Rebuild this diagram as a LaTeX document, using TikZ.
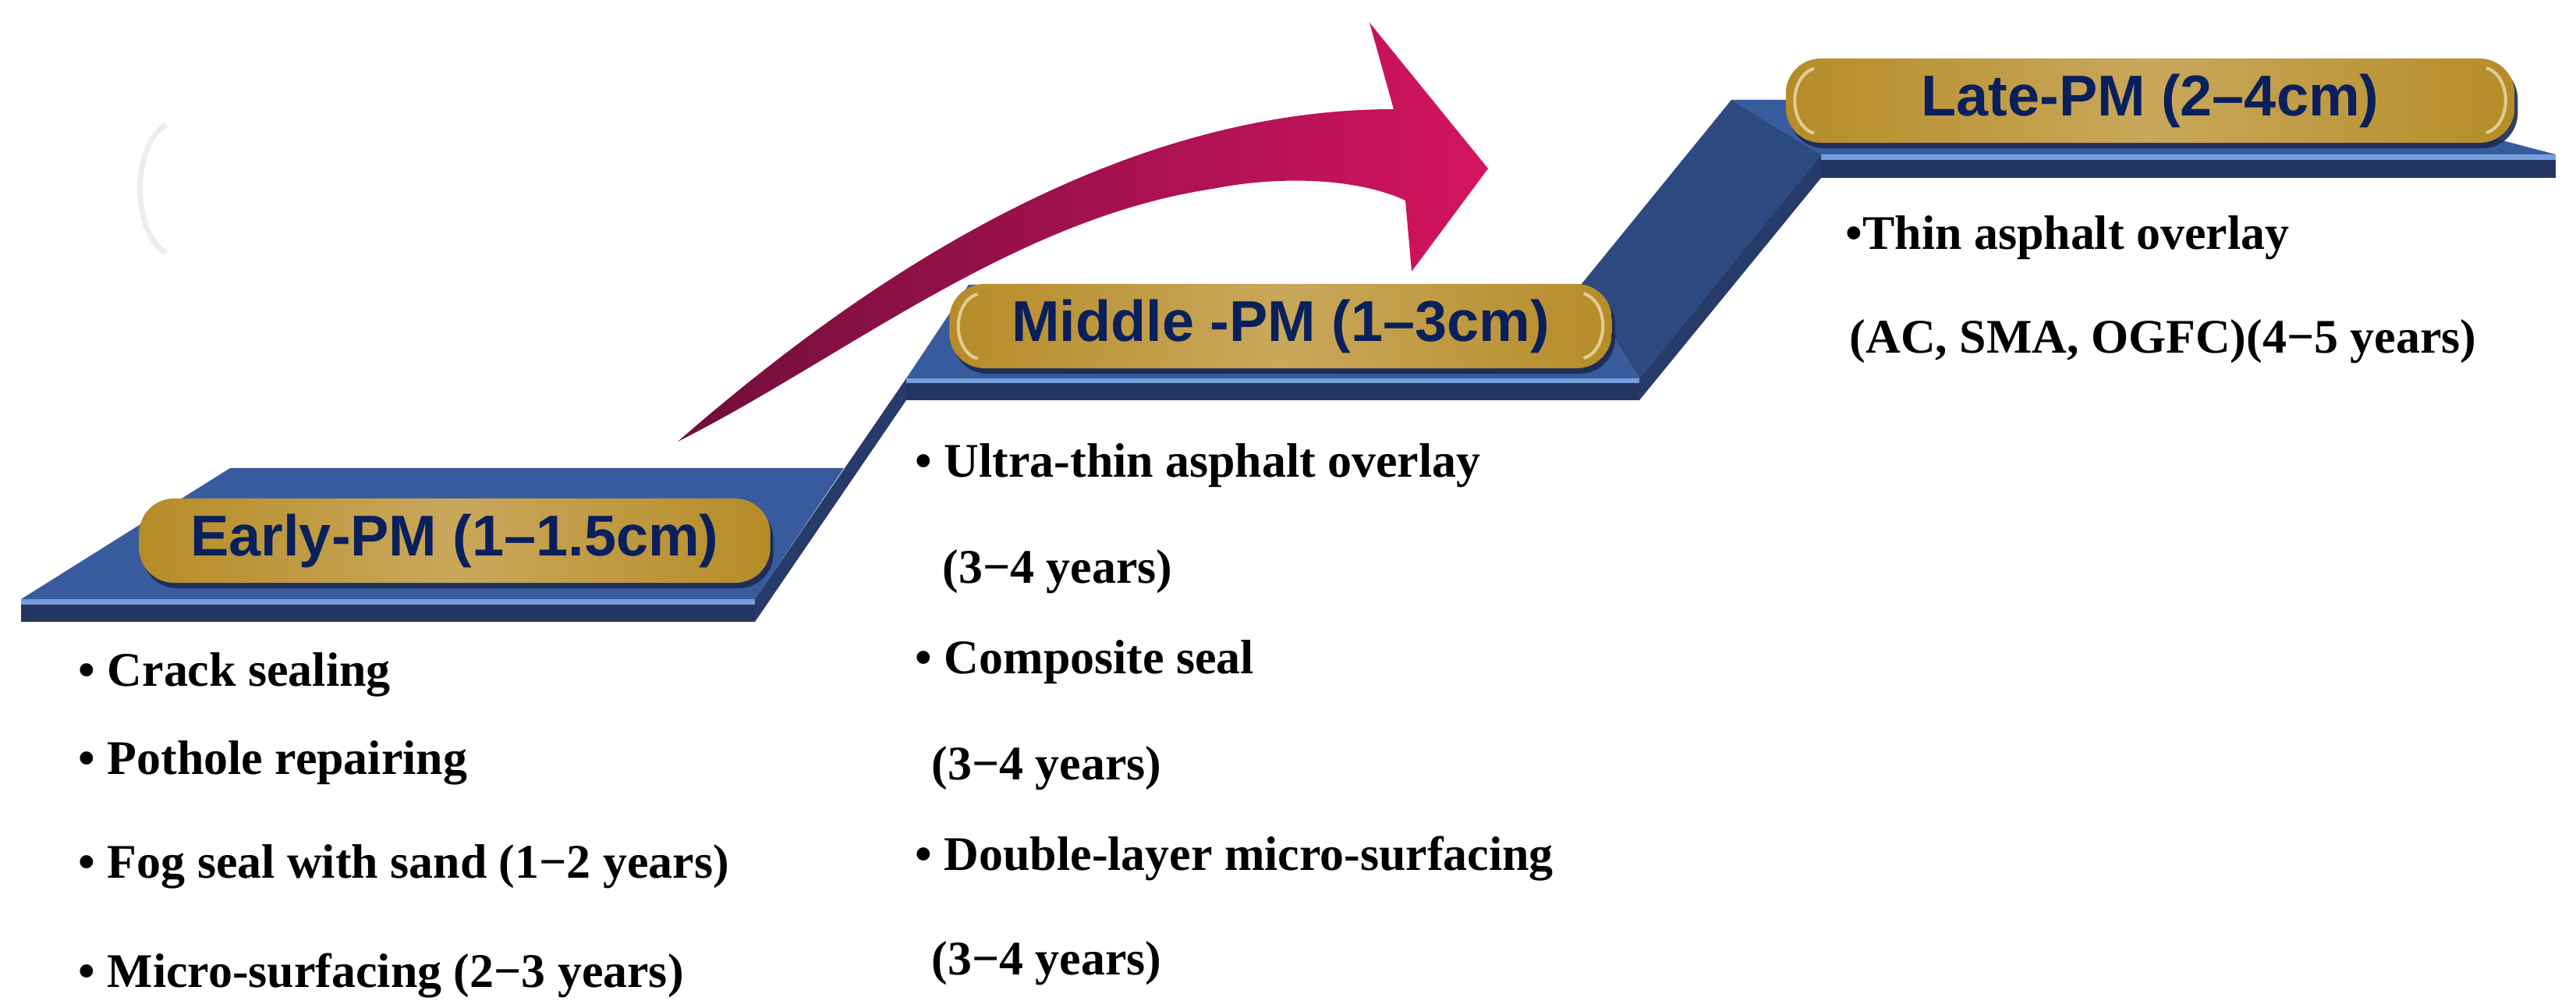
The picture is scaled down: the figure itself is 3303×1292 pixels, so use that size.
\documentclass[tikz,border=0pt]{standalone}
\usepackage{fontspec}
\setmainfont{Liberation Serif}
\newfontfamily\pillfont{Liberation Sans}
\usetikzlibrary{shadows}

\definecolor{faceblue}{RGB}{55,91,158}
\definecolor{frontblue}{RGB}{35,53,96}
\definecolor{rampblue}{RGB}{44,74,128}
\definecolor{shineblue}{RGB}{118,158,218}
\definecolor{goldedge}{RGB}{182,140,40}
\definecolor{goldmid}{RGB}{201,168,92}
\definecolor{pillink}{RGB}{10,32,92}
\definecolor{arrowdark}{RGB}{112,14,58}
\definecolor{arrowpink}{RGB}{212,20,96}
\definecolor{shadowblue}{RGB}{28,42,80}
\definecolor{cream}{RGB}{244,232,196}

\begin{document}
\begin{tikzpicture}[
  x=0.01cm, y=-0.01cm,
  face/.style={fill=faceblue},
  front/.style={fill=frontblue},
  shine/.style={fill=shineblue},
  bevel/.style={fill=frontblue!85!faceblue},
  pill/.style={rectangle, rounded corners=0.45cm, minimum height=1.08cm,
    left color=goldedge, right color=goldedge, middle color=goldmid,
    text=pillink, font=\pillfont\bfseries\fontsize{21pt}{24pt}\selectfont, inner sep=0pt,
    drop shadow={shadow xshift=0.04cm, shadow yshift=-0.07cm,
      fill=shadowblue, opacity=0.9}},
  hilite/.style={cream, line width=0.04cm, opacity=0.7},
  item/.style={anchor=base west, inner sep=0pt,
    font=\fontsize{17.6pt}{20pt}\selectfont\bfseries},
  ghost/.style={black!7, line width=0.07cm}
]
  \useasboundingbox (0,0) rectangle (3303,1292);

  % faint arc on the left
  \draw[ghost] (213,160) arc[start angle=105, end angle=255, x radius=0.45cm, y radius=0.85cm];

  % the steps
  \fill[face] (27,768) -- (295,600) -- (1082,600) -- (968,768) -- cycle;
  \fill[face] (1162,485) -- (1242,365) -- (2027,365) -- (2102,485) -- cycle;
  \fill[face] (2220,128) -- (3011,128) -- (3277,198) -- (2335,198) -- cycle;
  \fill[rampblue] (2027,365) -- (2220,128) -- (2335,198) -- (2102,485) -- cycle;

  \fill[front] (27,768) rectangle (968,797);
  \fill[front] (1162,485) rectangle (2102,513);
  \fill[front] (2335,198) rectangle (3277,228);
  \fill[shine] (27,768) rectangle (968,775);
  \fill[shine] (1162,485) rectangle (2102,491);
  \fill[shine] (2335,198) rectangle (3277,205);

  \fill[bevel] (968,768) -- (1162,485) -- (1162,513) -- (968,797) -- cycle;
  \fill[bevel] (2102,485) -- (2335,198) -- (2335,228) -- (2102,513) -- cycle;

  % curved arrow
  \shade[left color=arrowdark, right color=arrowpink]
    (869,566) .. controls (1060,400) and (1400,140) .. (1787,140)
    -- (1756,29) -- (1908,216) -- (1810,348) -- (1802,257)
    .. controls (1740,228) and (1640,225) .. (1555,242)
    .. controls (1300,280) and (1080,460) .. (869,566) -- cycle;

  % stage labels
  \node[pill, minimum width=8.09cm] (early) at (583,693) {Early-PM (1–1.5cm)};
  \node[pill, minimum width=8.49cm] (mid) at (1642,418) {Middle -PM (1–3cm)};
  \node[pill, minimum width=9.34cm] (late) at (2757,129) {Late-PM (2–4cm)};

  \foreach \p in {mid,late} {
    \draw[hilite] ([xshift=0.37cm,yshift=0.41cm]\p.west)
      arc[start angle=100, end angle=260, x radius=0.3cm, y radius=0.42cm];
    \draw[hilite] ([xshift=-0.37cm,yshift=-0.41cm]\p.east)
      arc[start angle=-80, end angle=80, x radius=0.3cm, y radius=0.42cm];
  }

  % measures
  \node[item] (e1) at (100,880) {• Crack sealing};
  \node[item] (e2) at (100,992) {• Pothole repairing};
  \node[item] (e3) at (100,1125) {• Fog seal with sand (1−2 years)};
  \node[item] (e4) at (100,1265) {• Micro-surfacing (2−3 years)};

  \node[item] (m1) at (1173,612) {• Ultra-thin asphalt overlay};
  \node[item] (m2) at (1208,748) {(3−4 years)};
  \node[item] (m3) at (1173,864) {• Composite seal};
  \node[item] (m4) at (1194,1000) {(3−4 years)};
  \node[item] (m5) at (1173,1115) {• Double-layer micro-surfacing};
  \node[item] (m6) at (1194,1249) {(3−4 years)};

  \node[item] (l1) at (2366,320) {•Thin asphalt overlay};
  \node[item] (l2) at (2371,453) {(AC, SMA, OGFC)(4−5 years)};
\end{tikzpicture}
\end{document}
